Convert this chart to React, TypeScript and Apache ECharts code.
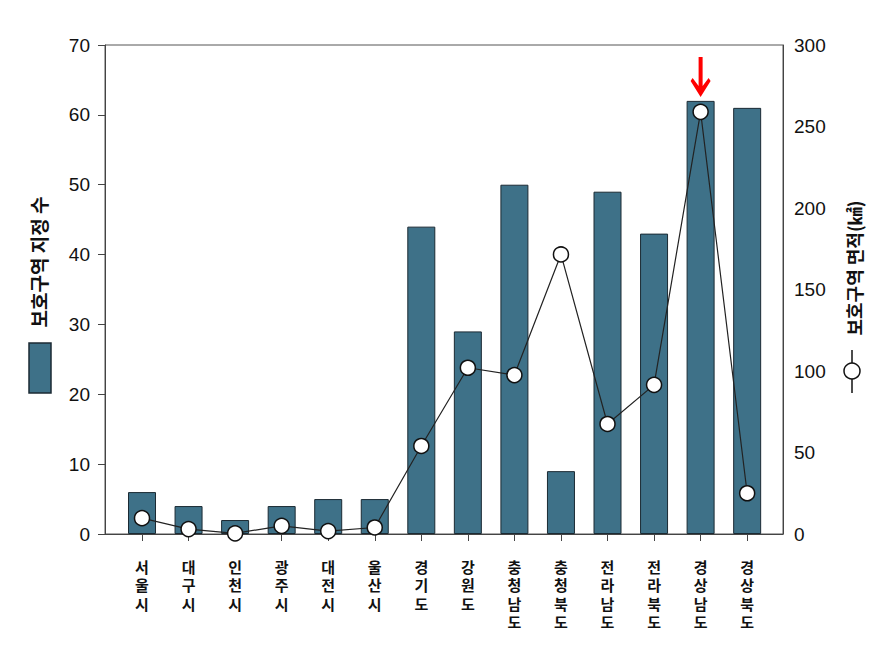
import React, { useEffect, useRef } from "react";
import * as echarts from "echarts";

const categories = ["서울시", "대구시", "인천시", "광주시", "대전시", "울산시", "경기도", "강원도", "충청남도", "충청북도", "전라남도", "전라북도", "경상남도", "경상북도"];
const zoneCounts = [6, 4, 2, 4, 5, 5, 44, 29, 50, 9, 49, 43, 62, 61];
const zoneAreas = [9.7, 3, 0.4, 5, 1.8, 4, 54, 102, 97.5, 171.5, 67.5, 91.5, 259, 25];
const leftTicks = { min: 0, max: 70, interval: 10 };
const rightTicks = { min: 0, max: 300, interval: 50 };
const highlightIndex = 12;

const BAR_COLOR = "#3e7188";
const BAR_BORDER = "#1b2a33";
const FONT_NUM = "Liberation Sans, Arial, sans-serif";
const FONT_KR = "Noto Sans CJK KR, sans-serif";

export default function App() {
  const ref = useRef<HTMLDivElement>(null);
  useEffect(() => {
    if (!ref.current) return;
    const chart = echarts.init(ref.current, undefined, { renderer: "svg" });
    const idx = categories.map((_, i) => i);
    chart.setOption({
      animation: false,
      backgroundColor: "#ffffff",
      grid: {
        left: 105,
        right: 105,
        top: 45,
        bottom: 120,
        containLabel: false,
        outerBoundsMode: "none",
        show: true,
        borderColor: "#555555",
        borderWidth: 1,
      },
      xAxis: {
        type: "value",
        min: -0.795,
        max: 13.77,
        splitLine: { show: false },
        axisLine: { show: true, onZero: false, lineStyle: { color: "#444444", width: 1 } },
        axisTick: { show: true, customValues: idx, length: 7, lineStyle: { color: "#444444" } },
        axisLabel: {
          customValues: idx,
          formatter: (v: number) => {
            const c = categories[Math.round(v)];
            return c ? c.split("").join("\n") : "";
          },
          fontFamily: FONT_KR,
          fontWeight: "bold",
          fontSize: 15,
          lineHeight: 18.5,
          color: "#111111",
          margin: 23,
          verticalAlign: "top",
        },
      },
      yAxis: [
        {
          type: "value",
          min: leftTicks.min,
          max: leftTicks.max,
          interval: leftTicks.interval,
          splitLine: { show: false },
          axisLine: { show: true, onZero: false, lineStyle: { color: "#444444" } },
          axisTick: { show: true, length: 7, lineStyle: { color: "#444444" } },
          axisLabel: { fontFamily: FONT_NUM, fontSize: 19, color: "#111111", margin: 15 },
        },
        {
          type: "value",
          position: "right",
          min: rightTicks.min,
          max: rightTicks.max,
          interval: rightTicks.interval,
          splitLine: { show: false },
          axisLine: { show: true, onZero: false, lineStyle: { color: "#444444" } },
          axisTick: { show: false },
          axisLabel: { fontFamily: FONT_NUM, fontSize: 19, color: "#111111", margin: 11 },
        },
      ],
      series: [
        {
          type: "bar",
          yAxisIndex: 0,
          barWidth: 28,
          data: zoneCounts.map((v, i) => [i, v]),
          itemStyle: { color: BAR_COLOR, borderColor: BAR_BORDER, borderWidth: 1 },
          markPoint: {
            silent: true,
            symbol: "path://M8,0 L12,0 L12,29 L18,21 L20,24 L10,40 L0,24 L2,21 L8,29 Z",
            symbolSize: [20, 40],
            symbolOffset: [0, -24],
            itemStyle: { color: "#ff0000" },
            label: { show: false },
            data: [{ coord: [highlightIndex, zoneCounts[highlightIndex]] }],
          },
        },
        {
          type: "line",
          yAxisIndex: 1,
          data: zoneAreas.map((v, i) => [i, v]),
          symbol: "circle",
          symbolSize: 15,
          lineStyle: { color: "#222222", width: 1.2 },
          itemStyle: { color: "#ffffff", borderColor: "#111111", borderWidth: 1.5 },
          z: 5,
        },
      ],
      graphic: [
        {
          type: "text",
          x: 38,
          y: 262,
          rotation: Math.PI / 2,
          style: {
            text: "보호구역 지정 수",
            fontFamily: FONT_KR,
            fontWeight: "bold",
            fontSize: 19,
            fill: "#111111",
            align: "center",
            verticalAlign: "middle",
          },
        },
        {
          type: "rect",
          shape: { x: 29, y: 343, width: 22, height: 50 },
          style: { fill: BAR_COLOR, stroke: BAR_BORDER, lineWidth: 1.5 },
        },
        {
          type: "text",
          x: 854,
          y: 268,
          rotation: Math.PI / 2,
          style: {
            text: "보호구역 면적(㎢)",
            fontFamily: FONT_KR,
            fontWeight: "bold",
            fontSize: 18,
            fill: "#111111",
            align: "center",
            verticalAlign: "middle",
          },
        },
        {
          type: "line",
          shape: { x1: 852, y1: 350, x2: 852, y2: 393 },
          style: { stroke: "#111111", lineWidth: 1.5 },
        },
        {
          type: "circle",
          shape: { cx: 852, cy: 371, r: 8 },
          style: { fill: "#ffffff", stroke: "#111111", lineWidth: 1.5 },
        },
      ],
    });
    return () => chart.dispose();
  }, []);
  return (
    <div
      ref={ref}
      style={{ position: "fixed", left: 0, top: 0, width: 888, height: 654 }}
    />
  );
}
